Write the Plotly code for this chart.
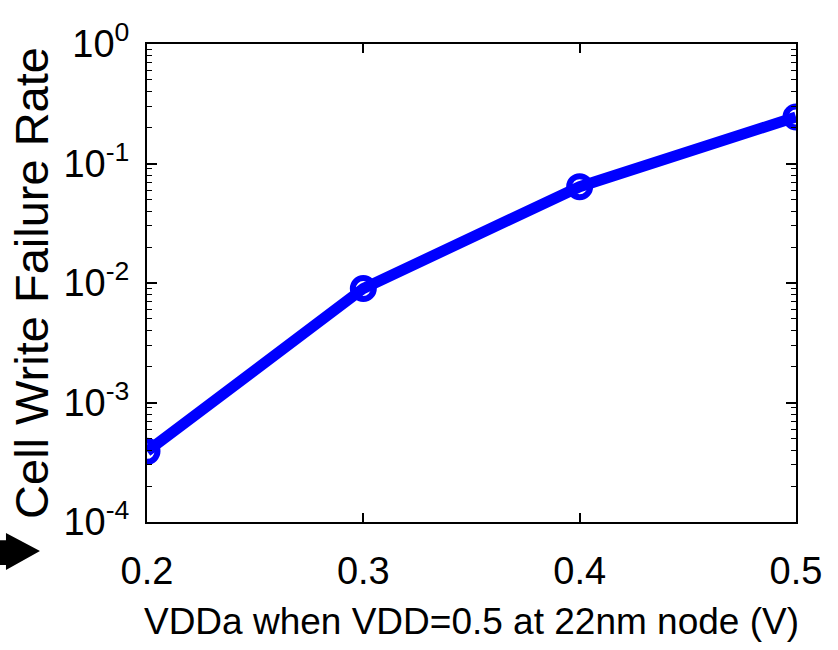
import plotly.graph_objects as go

vdda = [0.2, 0.3, 0.4, 0.5]
fail_rate = [3.9e-4, 9.0e-3, 6.4e-2, 0.245]

x_ticks = [0.2, 0.3, 0.4, 0.5]
x_ticktext = ["0.2", "0.3", "0.4", "0.5"]
y_ticks = [1e-4, 1e-3, 1e-2, 1e-1, 1e0]
y_ticktext = ["10<sup>-4</sup>", "10<sup>-3</sup>", "10<sup>-2</sup>", "10<sup>-1</sup>", "10<sup>0</sup>"]
y_minor = [m * 10 ** e for e in range(-4, 0) for m in range(2, 10)]

FONT = "Liberation Sans, Arial, Helvetica, sans-serif"

fig = go.Figure()
fig.add_trace(go.Scatter(
    x=vdda, y=fail_rate, mode="lines+markers",
    line=dict(color="#0000FF", width=11),
    marker=dict(symbol="circle-open", size=21, color="#0000FF",
                line=dict(color="#0000FF", width=6)),
    showlegend=False,
))

fig.update_layout(
    width=838, height=650,
    margin=dict(l=147, r=42, t=44, b=128),
    paper_bgcolor="white", plot_bgcolor="white",
    font=dict(family=FONT, color="black"),
    xaxis=dict(
        range=[0.2, 0.5], tickvals=x_ticks, ticktext=x_ticktext,
        ticks="inside", ticklen=9, tickwidth=1.5, tickcolor="black",
        showline=True, linecolor="black", linewidth=2, mirror="ticks",
        showgrid=False, zeroline=False,
        tickfont=dict(size=38, family=FONT), ticklabelstandoff=14,
        title=dict(text="VDDa when VDD=0.5 at 22nm node (V)",
                   font=dict(size=37, family=FONT), standoff=18),
    ),
    yaxis=dict(
        type="log", range=[-4, 0], tickvals=y_ticks, ticktext=y_ticktext,
        ticks="inside", ticklen=10, tickwidth=1.5, tickcolor="black",
        minor=dict(tickvals=y_minor, ticks="inside", ticklen=5,
                   tickwidth=1.2, tickcolor="black", showgrid=False),
        showline=True, linecolor="black", linewidth=2, mirror="ticks",
        showgrid=False, zeroline=False,
        tickfont=dict(size=38, family=FONT), ticklabelstandoff=8,
        title=dict(text="Cell Write Failure Rate",
                   font=dict(size=47, family=FONT), standoff=0),
    ),
    shapes=[
        dict(type="path", xref="paper", yref="paper",
             path="M -0.2265,-0.038 L -0.2173,-0.038 L -0.2173,-0.023 L -0.1649,-0.0607 "
                  "L -0.2173,-0.1004 L -0.2173,-0.090 L -0.2265,-0.090 Z",
             fillcolor="black", line=dict(color="black", width=0)),
    ],
)

fig.write_html("out.html")
